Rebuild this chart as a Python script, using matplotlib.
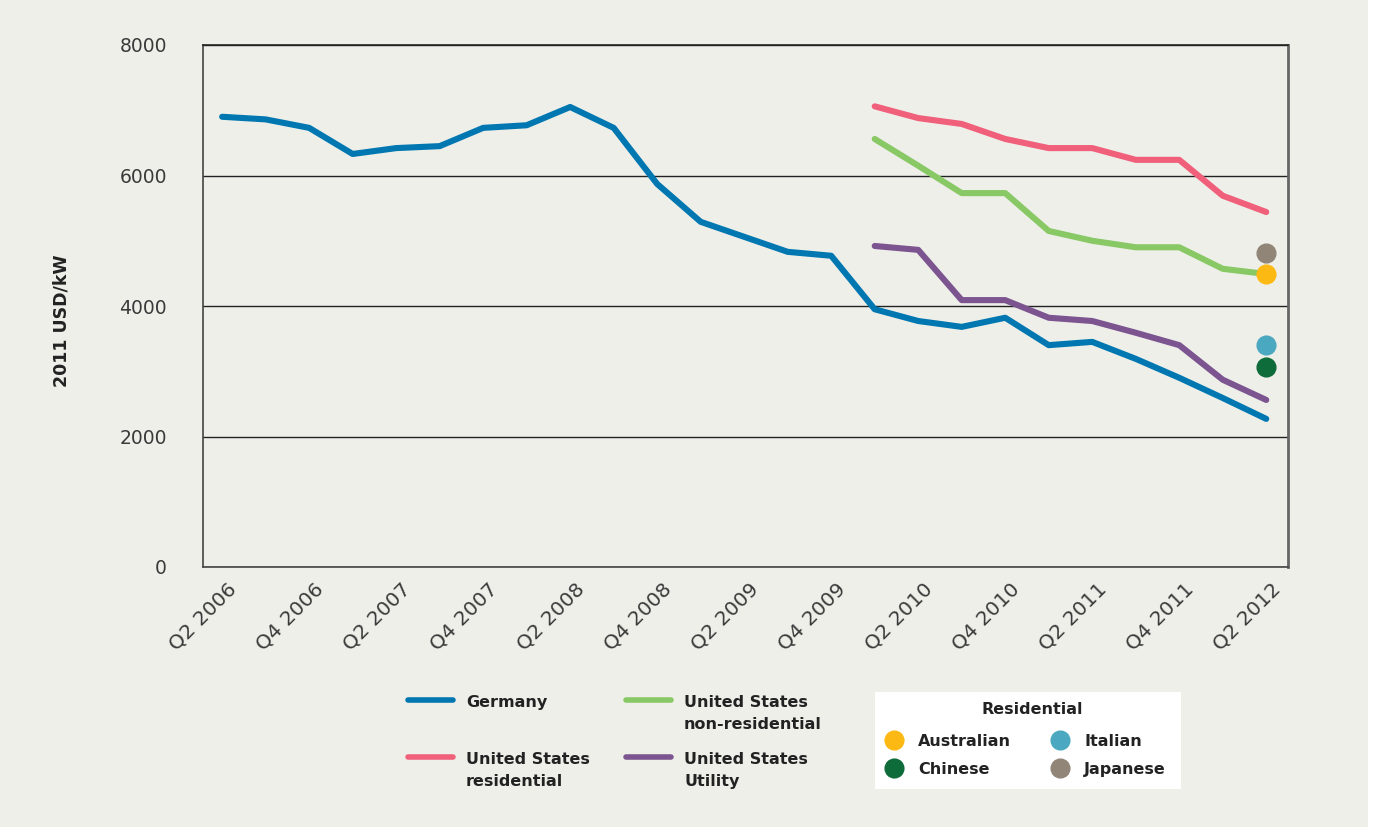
import numpy as np
import matplotlib.pyplot as plt
import matplotlib.transforms as mtransforms
from matplotlib.lines import Line2D

plt.rcParams['font.family'] = ['DejaVu Sans']

quarters = []
for yr in range(2006, 2013):
    for q in range(1, 5):
        quarters.append(f"Q{q} {yr}")
quarters = quarters[1:26]  # Q2 2006 .. Q2 2012

germany = [6900, 6860, 6730, 6330, 6420, 6450, 6730, 6770, 7050, 6730,
           5870, 5290, 5060, 4830, 4770, 3950, 3770, 3680, 3820, 3400,
           3450, 3190, 2900, 2590, 2270]
us_res = [7060, 6880, 6790, 6560, 6420, 6420, 6240, 6240, 5690, 5440]
us_nonres = [6560, 6150, 5730, 5730, 5150, 5000, 4900, 4900, 4570, 4490]
us_util = [4920, 4860, 4090, 4090, 3820, 3770, 3590, 3400, 2870, 2560]

line_names = [['Germany'], ['United States', 'residential'],
              ['United States', 'non-residential'], ['United States', 'Utility']]
line_cols = ['#0077B0', '#F0607A', '#88C865', '#7B5490']

dot_names = ['Australian', 'Italian', 'Chinese', 'Japanese']
dot_vals = [4490, 3400, 3070, 4810]
dot_cols = ['#FDB913', '#4AA8C0', '#0E6B3A', '#918578']

W, H = 1375, 831
bg = '#EFEFEA'
txt = '#222222'
fig = plt.figure(figsize=(W / 100, H / 100), dpi=100, facecolor='white')
fig.patches.append(plt.Rectangle((0, 0.005), 0.995, 0.995, transform=fig.transFigure,
                                 facecolor=bg, edgecolor='none', zorder=-10))
ax = fig.add_axes([203 / W, 1 - 567 / H, (1288 - 203) / W, (567 - 45) / H])
ax.set_facecolor(bg)

x = np.arange(len(quarters))
x_us = x[-len(us_res):]
lw = 4.4
series = [(x, germany), (x_us, us_res), (x_us, us_nonres), (x_us, us_util)]
for (xs, ys), c in zip(series, line_cols):
    ax.plot(xs, ys, color=c, lw=lw, solid_capstyle='round', solid_joinstyle='round', zorder=3)

for v, c in zip(dot_vals, dot_cols):
    ax.plot(x[-1], v, 'o', color=c, ms=13.5, zorder=4)

ax.set_xlim(-0.44, 24.5)
ax.set_ylim(0, 8000)
ax.set_yticks([0, 2000, 4000, 6000, 8000])
ax.yaxis.grid(True, color='#222222', lw=1)
ax.set_axisbelow(True)
ax.set_xticks(x[::2])
ax.set_xticklabels(quarters[::2], rotation=45, ha='right', va='center',
                   rotation_mode='anchor')
ax.tick_params(length=0, labelsize=13.5, colors='#3a3a3a')
ax.tick_params(axis='x', pad=0, labelsize=14.5)
ax.tick_params(axis='y', pad=26)
off = mtransforms.ScaledTranslation(11 / 100, -19 / 100, fig.dpi_scale_trans)
for lab in ax.get_xticklabels():
    lab.set_transform(lab.get_transform() + off)
for s in ax.spines.values():
    s.set_color('#444444')
    s.set_linewidth(1.2)
ax.spines['top'].set_color('#222222')
ax.spines['right'].set_color('#666666')
ax.spines['right'].set_linewidth(2)
ax.set_ylabel('2011 USD/kW', fontsize=12.5, fontweight='bold', color=txt)
ax.yaxis.set_label_coords((70 - 203) / 1085, (567 - 321) / 522)


def fx(px):
    return px / W


def fy(py):
    return 1 - py / H


# line legend (handles aligned with first text line)
fs = 11.5
leg_pos = [(408, 700), (408, 757), (626, 700), (626, 757)]
for (px, py), names, c in zip(leg_pos, line_names, line_cols):
    fig.add_artist(Line2D([fx(px), fx(px + 45)], [fy(py), fy(py)], color=c, lw=4,
                          solid_capstyle='round', transform=fig.transFigure))
    for i, t in enumerate(names):
        fig.text(fx(px + 58), fy(py + 7 + 22 * i), t, fontsize=fs, fontweight='bold',
                 color=txt, va='baseline', ha='left')

# residential dot legend
fig.patches.append(plt.Rectangle((fx(875), fy(789)), fx(1181) - fx(875), fy(692) - fy(789),
                                 transform=fig.transFigure, facecolor='white',
                                 edgecolor='none', zorder=-5))
fig.text(fx(1032), fy(714), 'Residential', fontsize=fs, fontweight='bold', color=txt,
         ha='center', va='baseline')
dot_pos = [(894, 740), (1060, 740), (894, 768), (1060, 768)]
for (px, py), n, c in zip(dot_pos, dot_names, dot_cols):
    fig.add_artist(Line2D([fx(px)], [fy(py)], ls='none', marker='o', ms=13.5, color=c,
                          transform=fig.transFigure))
    fig.text(fx(px + 24), fy(py + 6), n, fontsize=fs, fontweight='bold', color=txt,
             ha='left', va='baseline')

fig.savefig('out.png', dpi=100, facecolor='white')
